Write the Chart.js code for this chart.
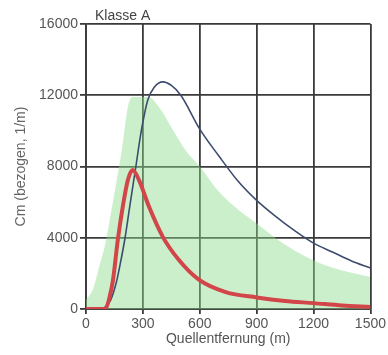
<!DOCTYPE html>
<html>
<head>
<meta charset="utf-8">
<script src="https://cdn.jsdelivr.net/npm/chart.js@4/dist/chart.umd.min.js"></script>
<style>
  body { margin: 0; background: #fff; }
</style>
</head>
<body>
<canvas id="chart" width="388" height="355"></canvas>
<script>
// Klasse A - Cm over Quellentfernung

const chartTitle = 'Klasse A';
const xTitle = 'Quellentfernung (m)';
const yTitle = 'Cm (bezogen, 1/m)';

const xTicks = [0, 300, 600, 900, 1200, 1500];
const yTicks = [0, 4000, 8000, 12000, 16000];

// green band
const bandX = [0, 40, 70, 100, 150, 190, 220, 245, 330, 384, 458, 526, 600, 700, 800, 900, 1037, 1195, 1337, 1500];
const bandY = [500, 1200, 2400, 3600, 6500, 9000, 11300, 11900, 11900, 11350, 10050, 8900, 8000, 6600, 5600, 4800, 3700, 2750, 2200, 1800];

// blue curve
const blueX = [0, 80, 100, 130, 160, 180, 206, 230, 263, 290, 325, 360, 405, 450, 500, 600, 700, 800, 900, 1000, 1100, 1200, 1300, 1400, 1500];
const blueY = [0, 0, 100, 500, 1500, 2500, 4000, 5700, 8000, 9900, 11700, 12450, 12750, 12550, 12000, 10100, 8600, 7200, 6100, 5200, 4400, 3700, 3200, 2700, 2300];

// red curve
const redX = [0, 90, 105, 125, 142, 168, 194, 221, 246, 279, 332, 405, 490, 595, 737, 900, 1050, 1200, 1350, 1500];
const redY = [0, 0, 50, 700, 1600, 3900, 5750, 7250, 7800, 7250, 5750, 4050, 2750, 1650, 950, 650, 450, 330, 200, 110];

const toPoints = (xs, ys) => xs.map((x, i) => ({ x, y: ys[i] }));

const titlePlugin = {
  id: 'klasseTitle',
  afterDraw(chart) {
    const { ctx, chartArea } = chart;
    ctx.save();
    ctx.font = '14px "Liberation Sans"';
    ctx.fillStyle = '#444';
    ctx.textBaseline = 'bottom';
    ctx.fillText(chartTitle, chartArea.left + 9, chartArea.top - 1);
    ctx.restore();
  }
};

const gridColor = '#3a3a3a';
const font = { family: '"Liberation Sans", Arial, sans-serif', size: 14 };

new Chart(document.getElementById('chart'), {
  type: 'line',
  data: {
    datasets: [
      {
        data: toPoints(redX, redY),
        borderColor: '#d2464a',
        borderWidth: 4,
        pointRadius: 0,
        fill: false,
        cubicInterpolationMode: 'monotone'
      },
      {
        data: toPoints(blueX, blueY),
        borderColor: '#3d4d6e',
        borderWidth: 1.6,
        pointRadius: 0,
        fill: false,
        cubicInterpolationMode: 'monotone'
      },
      {
        data: toPoints(bandX, bandY),
        borderWidth: 0,
        borderColor: 'rgba(0,0,0,0)',
        backgroundColor: 'rgba(140,220,140,0.45)',
        pointRadius: 0,
        fill: 'origin',
        cubicInterpolationMode: 'monotone'
      }
    ]
  },
  options: {
    responsive: false,
    animation: false,
    layout: { padding: { left: 0, top: 24, right: 16, bottom: 0 } },
    plugins: {
      legend: { display: false },
      tooltip: { enabled: false }
    },
    scales: {
      x: {
        type: 'linear',
        min: 0,
        max: 1500,
        afterFit: scale => { scale.height = 46; },
        afterBuildTicks: scale => { scale.ticks = xTicks.map(v => ({ value: v })); },
        ticks: { color: '#555', font, padding: 2, maxRotation: 0, callback: v => String(v) },
        grid: { color: gridColor, lineWidth: 1.8, tickLength: 5, tickColor: gridColor },
        border: { color: gridColor, width: 1.8 },
        title: { display: true, text: xTitle, color: '#555', font, padding: { top: 0, bottom: 7 } }
      },
      y: {
        min: 0,
        max: 16000,
        afterFit: scale => { scale.width = 86; },
        afterBuildTicks: scale => { scale.ticks = yTicks.map(v => ({ value: v })); },
        ticks: { color: '#555', font, padding: 2, callback: v => String(v) },
        grid: { color: gridColor, lineWidth: 1.8, tickLength: 6, tickColor: gridColor },
        border: { color: gridColor, width: 1.8 },
        title: { display: true, text: yTitle, color: '#666', font, padding: { top: 13, bottom: 0 } }
      }
    }
  },
  plugins: [titlePlugin]
});
</script>
</body>
</html>
